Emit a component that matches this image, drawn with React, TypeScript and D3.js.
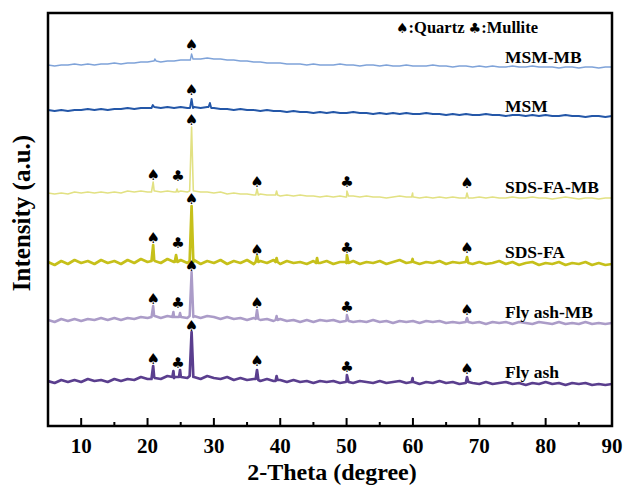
import React from "react";
import * as d3 from "d3";

const twoTheta = d3.range(5, 91, 1);

const flyAsh = [45,43,46,44,46,44,47,45,46,44,47,45,47,46,49,47,49,47,50,48,50,48,49,47,50,48,47,49,46,48,46,47,45,47,45,46,44,46,44,45,43,45,44,45,43,45,43,45,44,43,45,43,44,45,43,44,42,44,43,45,43,44,42,44,43,42,44,42,43,44,42,43,41,43,42,44,42,43,41,43,42,43,41,42,41,42];
const flyAshMB = [106,104,107,105,107,105,107,106,108,106,108,106,108,107,109,108,110,108,110,109,110,108,110,108,110,109,107,109,107,108,106,108,106,107,105,107,105,106,104,106,104,106,105,106,104,106,104,105,104,106,104,105,103,105,104,105,103,105,104,105,103,104,103,105,103,104,102,104,103,104,102,104,103,102,104,103,102,104,102,103,102,104,102,103,102,103];
const sdsFA = [164,161,165,162,166,163,165,162,166,163,165,162,166,163,167,164,166,163,167,164,166,163,166,162,165,163,166,162,165,163,166,162,165,163,166,162,165,163,164,162,165,163,165,162,164,163,165,162,164,163,165,162,164,166,163,165,162,164,163,165,162,164,163,165,162,164,162,163,165,162,164,161,163,164,161,163,162,164,161,163,162,164,161,163,161,162];
const sdsFAMB = [233,232,233,232,234,233,234,233,234,233,234,233,235,234,235,234,235,234,235,234,235,234,235,234,234,233,234,232,233,232,232,231,232,231,231,230,231,230,231,230,230,229,230,229,230,229,230,229,230,229,229,228,229,230,229,229,228,229,228,229,228,229,228,229,228,229,228,229,228,228,229,228,228,229,228,228,227,228,229,228,227,228,228,227,228,228];
const msm = [316,315,316,315,316,316,317,316,317,316,317,317,318,317,318,318,319,318,319,318,319,318,319,318,319,318,317,317,316,317,316,316,315,316,315,315,314,315,314,314,313,314,313,314,313,313,314,313,313,312,313,312,313,312,313,312,312,313,312,312,311,312,311,312,311,311,312,311,311,310,311,311,310,311,310,311,310,310,311,310,310,309,310,310,309,310];
const msmMB = [361,360,361,361,362,361,362,361,362,362,363,362,363,363,364,364,365,364,365,365,366,366,367,367,368,367,367,366,366,365,365,364,364,363,363,363,362,362,362,361,362,361,361,361,362,361,361,360,361,361,360,361,360,360,361,360,360,360,361,360,360,359,360,360,359,360,359,360,359,359,360,359,359,360,359,359,359,358,359,359,358,359,359,358,359,359];

const flyAshPeaks = [[20.6,47],[20.85,60],[21.1,48],[23.75,49],[23.9,55],[24.05,49],[24.75,49],[24.9,56],[25.05,49],[26.35,50],[26.64,94],[26.9,49],[36.3,47],[36.5,56],[36.7,46],[39.3,45],[39.45,50],[39.6,46],[49.85,44],[50.05,51],[50.3,44],[59.8,44],[59.95,48],[60.1,44],[67.95,43],[68.15,49],[68.35,44]];
const flyAshMBPeaks = [[20.6,109],[20.85,120],[21.1,110],[23.75,109],[23.9,114],[24.05,109],[24.75,109],[24.9,113],[25.05,109],[26.35,110],[26.64,154],[26.9,109],[36.3,107],[36.5,116],[36.7,107],[39.3,106],[39.45,110],[39.6,106],[49.85,105],[50.05,111],[50.3,105],[67.95,104],[68.15,108],[68.35,104]];
const sdsFAPeaks = [[20.6,165],[20.85,181],[21.1,165],[24.1,164],[24.3,171],[24.5,164],[26.35,165],[26.64,220],[26.9,164],[36.3,164],[36.5,170],[36.7,164],[39.3,164],[39.45,168],[39.6,164],[45.4,163],[45.55,168],[45.7,163],[49.85,164],[50.05,171],[50.3,163],[59.8,164],[59.95,167],[60.1,164],[67.95,164],[68.15,169],[68.35,163]];
const sdsFAMBPeaks = [[20.6,234],[20.85,244],[21.1,235],[24.3,234],[24.45,237],[24.6,234],[26.35,235],[26.64,299],[26.9,235],[36.3,231],[36.5,237],[36.7,231],[39.3,231],[39.45,235],[39.6,231],[49.85,229],[50.05,235],[50.3,230],[59.8,229],[59.95,233],[60.1,229],[67.95,228],[68.15,233],[68.35,228]];
const msmPeaks = [[20.6,318],[20.8,321],[21.0,319],[26.4,318],[26.64,327],[26.85,318],[29.2,319],[29.4,323],[29.6,318]];
const msmMBPeaks = [[20.9,365],[21.1,367],[21.3,365],[26.45,366],[26.64,372],[26.85,367]];

const seriesNames = ["MSM-MB", "MSM", "SDS-FA-MB", "SDS-FA", "Fly ash-MB", "Fly ash"];
const seriesColors = ["#7fa3d9", "#2457a8", "#e2e183", "#c6c01a", "#ab9cc8", "#5a3e8e"];
const seriesWidths = [1.4, 1.9, 1.6, 2.7, 2.5, 2.7];
const seriesValues = [msmMB, msm, sdsFAMB, sdsFA, flyAshMB, flyAsh];
const seriesPeaks = [msmMBPeaks, msmPeaks, sdsFAMBPeaks, sdsFAPeaks, flyAshMBPeaks, flyAshPeaks];
const labelLevels = [363, 314, 233, 168, 108, 48];

// markers: [2theta, intensity, type]
const markers: [number, number, string][] = [
  [26.64, 381, "♠"],
  [26.64, 336, "♠"],
  [20.85, 251, "♠"], [24.6, 250, "♣"], [26.64, 306, "♠"], [36.5, 244, "♠"], [50.05, 244, "♣"], [68.15, 243, "♠"],
  [20.85, 188, "♠"], [24.6, 183, "♣"], [26.64, 227, "♠"], [36.5, 176, "♠"], [50.05, 178, "♣"], [68.15, 178, "♠"],
  [20.85, 127, "♠"], [24.6, 123, "♣"], [26.64, 160, "♠"], [36.5, 123, "♠"], [50.05, 119, "♣"], [68.15, 116, "♠"],
  [20.85, 67, "♠"], [24.6, 63, "♣"], [26.64, 100, "♠"], [36.5, 65, "♠"], [50.05, 59, "♣"], [68.15, 57, "♠"],
];

const majorTicks = [10, 20, 30, 40, 50, 60, 70, 80, 90];
const minorTicks = [15, 25, 35, 45, 55, 65, 75, 85];

const W = 626, H = 485;
const L = 48, R = 612, T = 13, B = 426;
const serif = "'Liberation Serif', 'Times New Roman', serif";

export default function App() {
  const x = d3.scaleLinear().domain([5, 90]).range([L, R]);
  const y = d3.scaleLinear().domain([0, 413]).range([B, T]);
  const line = d3.line<[number, number]>().x(d => x(d[0])).y(d => y(d[1]));

  const paths = seriesValues.map((vals, i) => {
    const pts: [number, number][] = twoTheta.map((t, j) => [t, vals[j]] as [number, number]);
    const all = pts.concat(seriesPeaks[i] as [number, number][]).sort((a, b) => a[0] - b[0]);
    return line(all) || "";
  });

  return (
    <svg width={W} height={H} style={{ position: "absolute", left: 0, top: 0, background: "#fff" }}>
      <defs>
        <clipPath id="plot"><rect x={L} y={T} width={R - L} height={B - T} /></clipPath>
      </defs>
      <g clipPath="url(#plot)">
        {paths.map((p, i) => (
          <path key={i} d={p} fill="none" stroke={seriesColors[i]} strokeWidth={seriesWidths[i]} strokeLinejoin="round" />
        ))}
      </g>
      {markers.map((m, i) => (
        <text key={i} x={x(m[0])} y={y(m[1])} fontSize={15} fontFamily="'DejaVu Sans', sans-serif" textAnchor="middle" dominantBaseline="central" fill="#000">{m[2]}</text>
      ))}
      {seriesNames.map((n, i) => (
        <text key={n} x={505} y={y(labelLevels[i])} fontSize={17.5} fontWeight="bold" fontFamily={serif} fill="#000">{n}</text>
      ))}
      <text x={396} y={33} fontSize={16.5} fontWeight="bold" fontFamily={serif} fill="#000">
        <tspan fontFamily="'DejaVu Sans', sans-serif" fontSize={14}>♠</tspan>:Quartz <tspan fontFamily="'DejaVu Sans', sans-serif" fontSize={14}>♣</tspan>:Mullite
      </text>
      <rect x={L} y={T} width={R - L} height={B - T} fill="none" stroke="#000" strokeWidth={2.5} />
      {majorTicks.map(t => (
        <g key={t}>
          <line x1={x(t)} x2={x(t)} y1={B} y2={B - 8} stroke="#000" strokeWidth={2} />
          <text x={x(t)} y={453} fontSize={21} fontWeight="bold" fontFamily={serif} textAnchor="middle" fill="#000">{t}</text>
        </g>
      ))}
      {minorTicks.map(t => (
        <line key={t} x1={x(t)} x2={x(t)} y1={B} y2={B - 4} stroke="#000" strokeWidth={2} />
      ))}
      <text x={(L + R) / 2 + 2} y={480} fontSize={24} fontWeight="bold" fontFamily={serif} textAnchor="middle" fill="#000">2-Theta (degree)</text>
      <text transform={`translate(30, ${213}) rotate(-90)`} fontSize={25} fontWeight="bold" fontFamily={serif} textAnchor="middle" fill="#000">Intensity (a.u.)</text>
    </svg>
  );
}
